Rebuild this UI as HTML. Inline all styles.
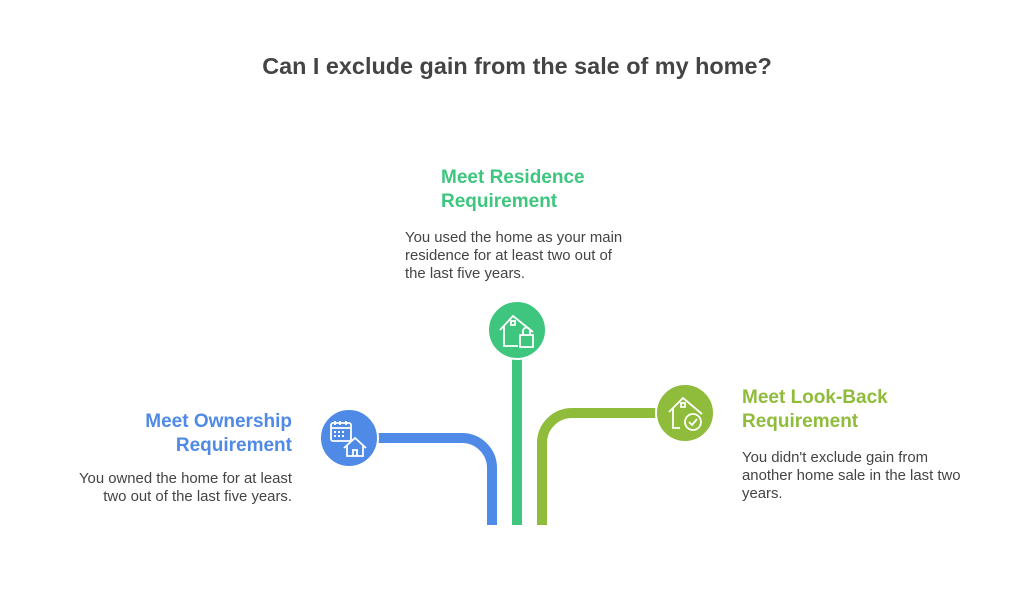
<!DOCTYPE html>
<html><head><meta charset="utf-8"><style>
body{margin:0;width:1034px;height:608px;background:#fff;font-family:"Liberation Sans",Arial,sans-serif;position:relative;overflow:hidden}
.t{position:absolute;font-weight:bold;font-size:19px;line-height:24px}
.d{position:absolute;font-size:14.9px;line-height:18px;color:#444}
</style></head><body>
<div style="position:absolute;left:0;width:1034px;top:53px;text-align:center;font-size:23.4px;font-weight:bold;color:#444">Can I exclude gain from the sale of my home?</div>

<div class="t" style="left:441px;top:166px;color:#3ec67f">Meet Residence<br>Requirement</div>
<div class="d" style="left:405px;top:229px">You used the home as your main<br>residence for at least two out of<br>the last five years.</div>

<div class="t" style="right:742px;top:410px;text-align:right;color:#4f8ae6">Meet Ownership<br>Requirement</div>
<div class="d" style="right:742px;top:470px;text-align:right">You owned the home for at least<br>two out of the last five years.</div>

<div class="t" style="left:742px;top:386px;color:#8fbc3a">Meet Look-Back<br>Requirement</div>
<div class="d" style="left:742px;top:449px">You didn't exclude gain from<br>another home sale in the last two<br>years.</div>

<svg width="1034" height="608" style="position:absolute;left:0;top:0">
<path d="M370 438 H462 A30 30 0 0 1 492 468 V525" fill="none" stroke="#4f8ae6" stroke-width="10"/>
<path d="M517 355 V525" fill="none" stroke="#3ec67f" stroke-width="10"/>
<path d="M665 413 H572 A30 30 0 0 0 542 443 V525" fill="none" stroke="#8fbc3a" stroke-width="10"/>
<circle cx="349" cy="438" r="29" fill="#4f8ae6" stroke="#fff" stroke-width="2"/>
<circle cx="517" cy="330" r="29" fill="#3ec67f" stroke="#fff" stroke-width="2"/>
<circle cx="685" cy="413" r="29" fill="#8fbc3a" stroke="#fff" stroke-width="2"/>
<g fill="none" stroke="#fff" stroke-width="1.8">
<rect x="331" y="423" width="20" height="18" rx="2"/><line x1="331" y1="428" x2="351" y2="428"/>
<path d="M335 421 V425 M340 421 V425 M346 421 V425"/>
<g fill="#fff" stroke="none"><rect x="334" y="431" width="2" height="2"/><rect x="338" y="431" width="2" height="2"/><rect x="342" y="431" width="2" height="2"/><rect x="334" y="435" width="2" height="2"/><rect x="338" y="435" width="2" height="2"/><rect x="342" y="435" width="2" height="2"/></g>
<path d="M344 448 L355 438 L366 448 M347 446 V456 H363 V446 M353 456 V450 H357 V456"/>
<path d="M500 330 L513 316 L533 332 M504 326 V346 H518"/><rect x="511" y="321" width="4" height="4"/>
<rect x="520" y="335" width="13" height="12"/><path d="M523 335 V331 A3.5 3.5 0 0 1 530 331 V335"/>
<path d="M669 412 L683 398 L702 414 M673 408 V428 H680"/><rect x="681" y="403" width="4" height="4"/>
<circle cx="693" cy="422" r="8"/><path d="M689 422 L692 425 L697 419"/>
</g>
</svg>
</body></html>
